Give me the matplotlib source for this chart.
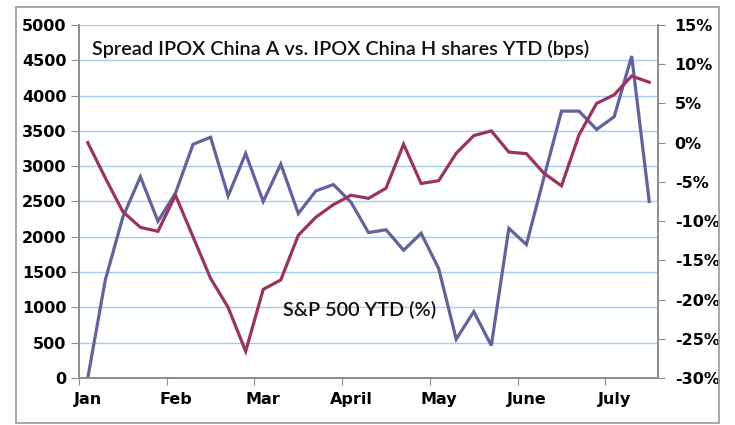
import matplotlib.pyplot as plt
from matplotlib.patches import Rectangle
from matplotlib.ticker import FuncFormatter

# Données (hebdomadaires)
months = ['Jan', 'Feb', 'Mar', 'April', 'May', 'June', 'July']
spread_bps = [0, 1390, 2280, 2850, 2220, 2620, 3310, 3410, 2580, 3180,
              2500, 3030, 2330, 2650, 2740, 2490, 2060, 2100, 1810, 2050,
              1550, 550, 940, 460, 2120, 1890, 2840, 3780, 3780, 3520,
              3700, 4560, 2500]
spx_ytd = [0.0, -4.5, -8.8, -10.8, -11.3, -6.7, -12.0, -17.3, -21.0, -26.6,
           -18.7, -17.5, -11.8, -9.5, -7.9, -6.7, -7.1, -5.8, -0.2, -5.2,
           -4.85, -1.35, 0.9, 1.5, -1.2, -1.4, -3.9, -5.5, 1.0, 5.0,
           6.1, 8.5, 7.7]

x = list(range(len(spread_bps)))
blue = '#62629c'
maroon = '#99335f'
grey = '#8c8c8c'

fig = plt.figure(figsize=(7.35, 4.25), dpi=100)
ax = fig.add_axes([79/735, 1 - 378/425, 579/735, 353/425])
ax2 = ax.twinx()

# cadre extérieur
fig.patches.append(Rectangle((16/735, 2/425), 703/735, 416/425, transform=fig.transFigure,
                             fill=False, edgecolor='#a0a0a0', linewidth=1.3))

ax.plot(x, spread_bps, color=blue, linewidth=2.3, solid_joinstyle='miter')
ax2.plot(x, spx_ytd, color=maroon, linewidth=2.3, solid_joinstyle='miter')

ax.set_xlim(-0.5, len(x) - 0.5)
ax.set_ylim(0, 5000)
ax2.set_ylim(-30, 15)

ax.set_yticks(range(0, 5001, 500))
ax.yaxis.grid(True, color='#a3cbf2', linewidth=1.0)
ax.set_axisbelow(True)
ax2.set_yticks(range(-30, 16, 5))
ax2.yaxis.set_major_formatter(FuncFormatter(lambda v, p: f'{v:.0f}%'))

# ticks aux bornes des mois, étiquettes centrées sur les catégories
ax.set_xticks([i * 5 - 0.5 for i in range(len(months))])
ax.set_xticklabels([])
ax.set_xticks([i * 5 for i in range(len(months))], minor=True)
ax.set_xticklabels(months, minor=True)
ax.tick_params(axis='x', which='minor', length=0, pad=10)
ax.tick_params(axis='x', which='major', length=5, color=grey, direction='out')

lab = dict(fontfamily='DejaVu Sans', fontweight='bold', fontsize=11.5)
for t in ax.get_xticklabels(minor=True) + ax.get_yticklabels() + ax2.get_yticklabels():
    t.set(**lab)
ax.tick_params(axis='y', length=6, color=grey, pad=3)
ax2.tick_params(axis='y', length=5, color=grey, pad=7)

for a in (ax, ax2):
    a.spines['top'].set_visible(False)
    for s in ('left', 'right', 'bottom'):
        a.spines[s].set_color(grey)
        a.spines[s].set_linewidth(1.2)

txt = dict(transform=ax.transAxes, fontfamily='Lato', fontweight='semibold',
           fontsize=14.3, va='center', ha='left', color='#111111')
ax.text(13/579, 1 - 24/353, 'Spread IPOX China A vs. IPOX China H shares YTD (bps)', **txt)
ax.text(204/579, 1 - 285/353, 'S&P 500 YTD (%)', **txt)

fig.savefig('out.png', dpi=100)
